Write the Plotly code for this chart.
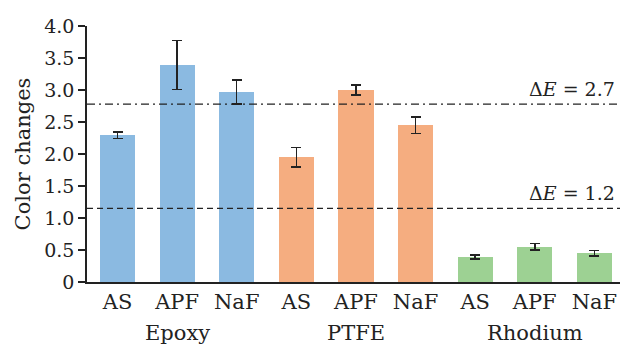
import plotly.graph_objects as go

categories = ["AS", "APF", "NaF", "AS", "APF", "NaF", "AS", "APF", "NaF"]
groups = ["Epoxy", "PTFE", "Rhodium"]
values = [2.29, 3.39, 2.97, 1.95, 3.00, 2.45, 0.39, 0.55, 0.45]
errors = [0.05, 0.38, 0.19, 0.15, 0.08, 0.13, 0.03, 0.05, 0.04]
group_colors = ["#8bbae1", "#f5ad80", "#9dd193"]
threshold_values = [2.78, 1.15]
threshold_labels = ["Δ<i>E</i> = 2.7", "Δ<i>E</i> = 1.2"]
ytick_vals = [0, 0.5, 1.0, 1.5, 2.0, 2.5, 3.0, 3.5, 4.0]
ytick_text = ["0", "0.5", "1.0", "1.5", "2.0", "2.5", "3.0", "3.5", "4.0"]

FONT = "DejaVu Serif"
TXT = "#222222"
xs = list(range(len(categories)))
colors = [group_colors[i // 3] for i in xs]

fig = go.Figure()
fig.add_trace(go.Bar(
    x=xs, y=values, width=0.59,
    marker=dict(color=colors, line=dict(width=0)),
    error_y=dict(type="data", array=errors, color="#222222", thickness=1.5, width=5),
    showlegend=False,
))

dashes = ["8px,4px,2px,4px", "6px,4px"]
for v, lab, d in zip(threshold_values, threshold_labels, dashes):
    fig.add_shape(type="line", xref="paper", x0=0, x1=1, yref="y", y0=v, y1=v,
                  line=dict(color="#222222", width=1.2, dash=d), layer="above")
    fig.add_annotation(xref="paper", x=0.995, yref="y", y=v, text=lab, showarrow=False,
                       xanchor="right", yanchor="bottom", yshift=2,
                       font=dict(family=FONT, size=19, color=TXT))

for gi, g in enumerate(groups):
    fig.add_annotation(xref="x", x=gi * 3 + 1, yref="paper", y=0, yshift=-51, text=g,
                       showarrow=False, yanchor="middle",
                       font=dict(family=FONT, size=21, color=TXT))

fig.update_layout(
    width=620, height=345,
    margin=dict(l=87, r=0, t=26, b=63),
    plot_bgcolor="white", paper_bgcolor="white",
    bargap=0,
    xaxis=dict(range=[-0.512, 8.43], tickmode="array", tickvals=xs, ticktext=categories,
               showgrid=False, zeroline=False, showline=True, linecolor="#222222", linewidth=1.5,
               ticks="", tickfont=dict(family=FONT, size=21, color=TXT)),
    yaxis=dict(range=[0, 4.0], tickmode="array", tickvals=ytick_vals, ticktext=ytick_text,
               showgrid=False, zeroline=False, showline=True, linecolor="#222222", linewidth=1.5,
               ticks="outside", ticklen=7, tickwidth=1.5, tickcolor="#222222",
               tickfont=dict(family=FONT, size=19, color=TXT),
               title=dict(text="Color changes", font=dict(family=FONT, size=21, color=TXT),
                          standoff=8)),
)

fig.write_html("out.html")
